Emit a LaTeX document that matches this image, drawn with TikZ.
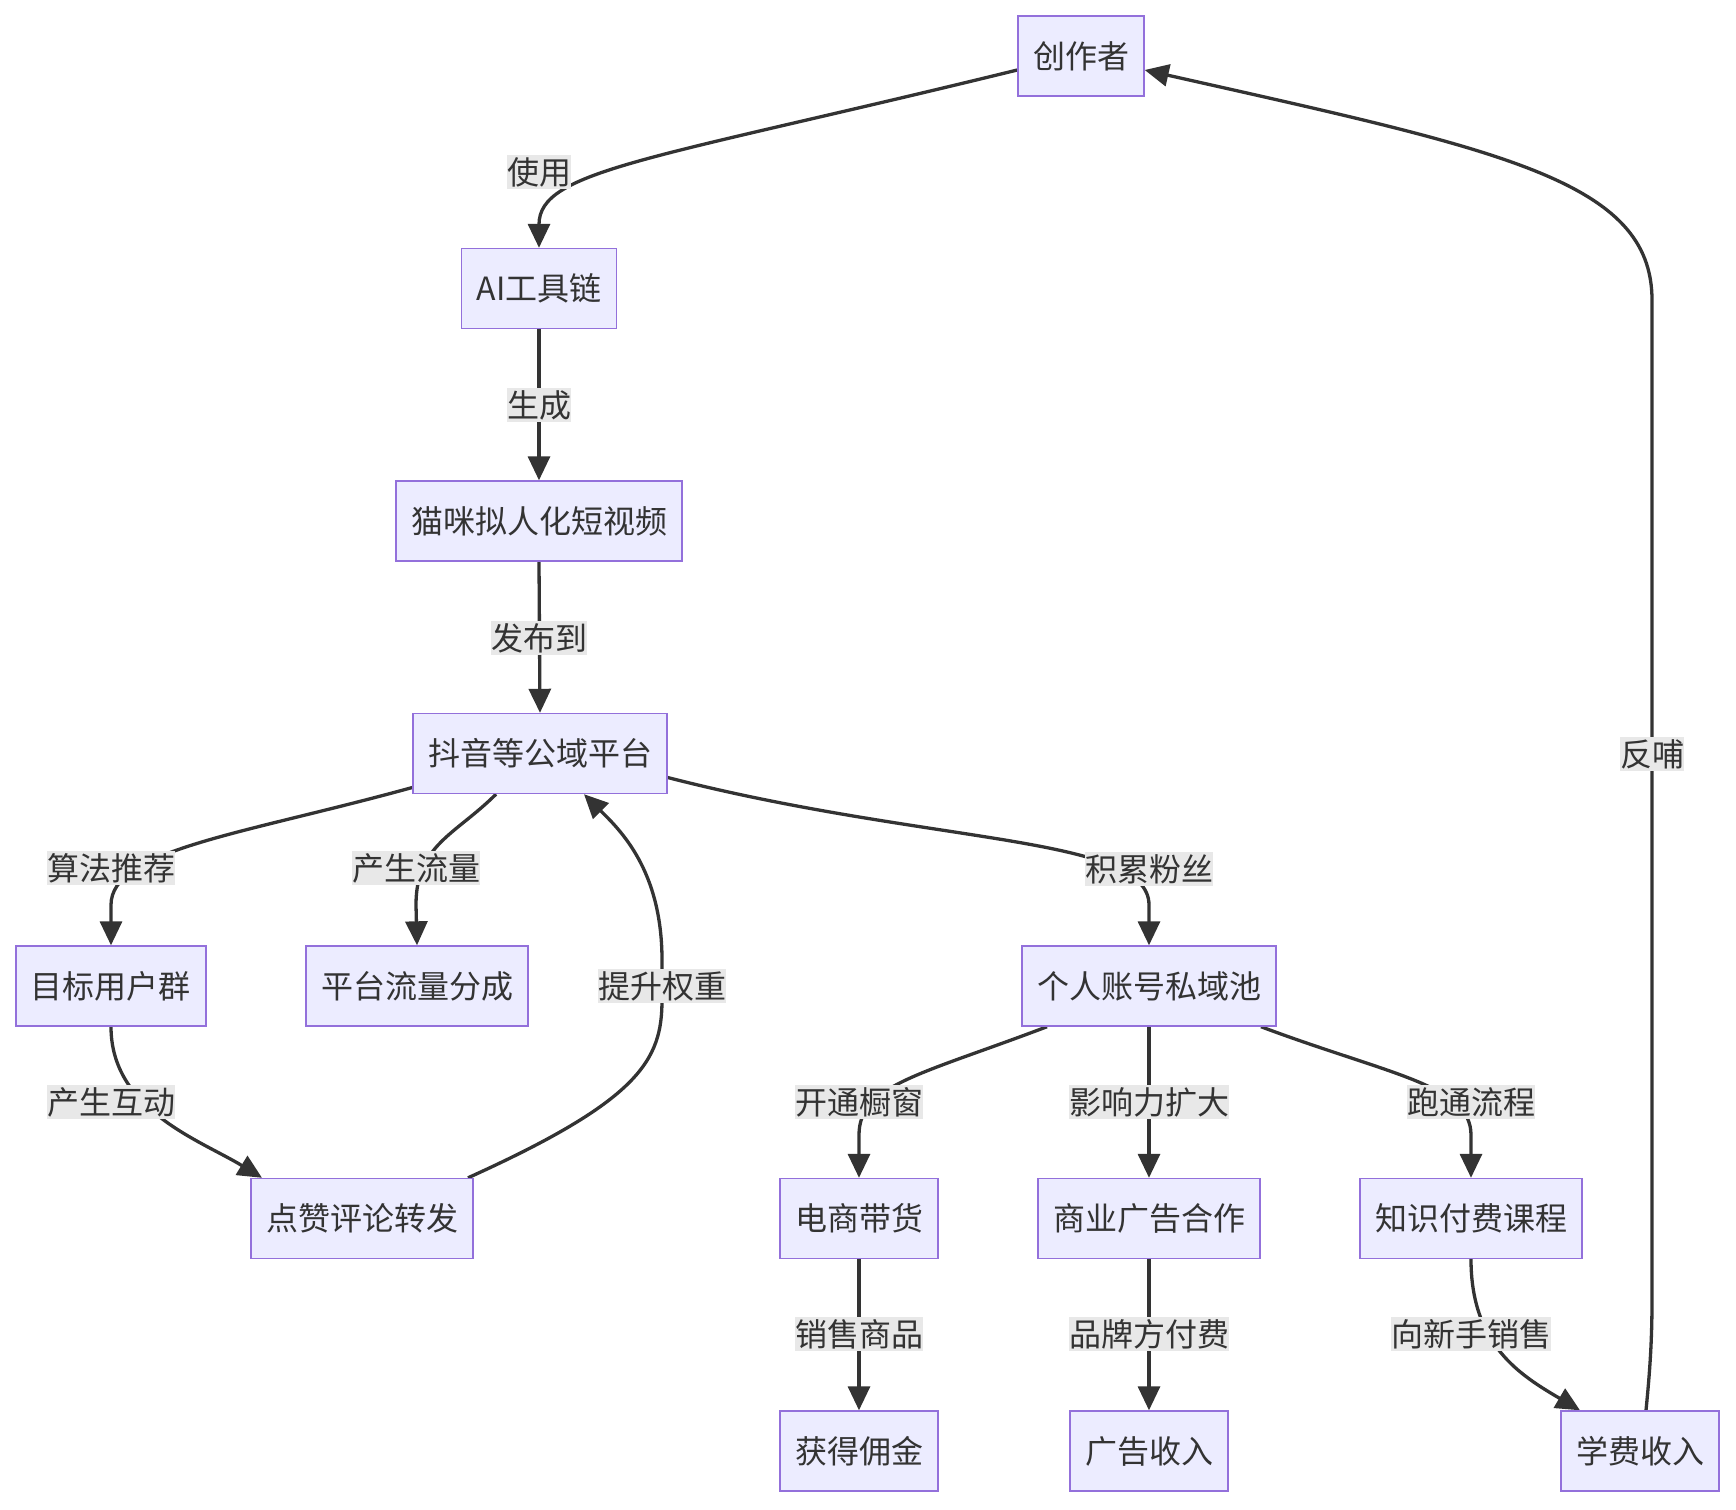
\documentclass[tikz,border=0pt]{standalone}
\usepackage{fontspec}
\setmainfont{Noto Sans CJK SC}
\usetikzlibrary{arrows.meta, backgrounds}
\definecolor{boxfill}{HTML}{ECECFF}
\definecolor{boxline}{HTML}{9370DB}
\definecolor{ink}{HTML}{333333}
\definecolor{lblfill}{HTML}{E8E8E8}

\begin{document}
\begin{tikzpicture}[x=0.5pt, y=-0.5pt,
  box/.style={rectangle, draw=boxline, fill=boxfill, line width=0.7pt,
    minimum height=40pt, inner xsep=7.5pt, inner ysep=0pt, text=ink,
    font=\fontsize{16pt}{19pt}\selectfont},
  lbl/.style={fill=lblfill, inner xsep=0pt, inner ysep=1pt, text=ink,
    font=\fontsize{16pt}{19pt}\selectfont},
  flow/.style={draw=ink, line width=1.65pt, -{Triangle[length=12pt,width=11pt]}}]

\useasboundingbox (0,0) rectangle (1736,1510);

% boxes
\node[box] (ctor) at (1081,56) {创作者};
\node[box] (ai) at (539,288.5) {AI工具链};
\node[box] (cat) at (539,521) {猫咪拟人化短视频};
\node[box] (plat) at (540,753.5) {抖音等公域平台};

\node[box] (tgt) at (111,986) {目标用户群};
\node[box] (share) at (417,986) {平台流量分成};
\node[box] (pool) at (1149,986) {个人账号私域池};

\node[box] (like) at (362,1218.5) {点赞评论转发};
\node[box] (shop) at (859,1218.5) {电商带货};
\node[box] (ad) at (1149,1218.5) {商业广告合作};
\node[box] (course) at (1471,1218.5) {知识付费课程};

\node[box] (comm) at (859,1451) {获得佣金};
\node[box] (adinc) at (1149,1451) {广告收入};
\node[box] (fee) at (1640,1451) {学费收入};

% edge labels
\node[lbl] (l_use) at (539,172) {使用};
\node[lbl] (l_gen) at (539,405) {生成};
\node[lbl] (l_pub) at (539,638) {发布到};
\node[lbl] (l_algo) at (111,868) {算法推荐};
\node[lbl] (l_traffic) at (416,868) {产生流量};
\node[lbl] (l_boost) at (662,986) {提升权重};
\node[lbl] (l_fans) at (1149,869) {积累粉丝};
\node[lbl] (l_act) at (111,1102) {产生互动};
\node[lbl] (l_win) at (859,1102) {开通橱窗};
\node[lbl] (l_infl) at (1149,1102) {影响力扩大};
\node[lbl] (l_run) at (1471,1102) {跑通流程};
\node[lbl] (l_sell) at (859,1334) {销售商品};
\node[lbl] (l_brand) at (1149,1334) {品牌方付费};
\node[lbl] (l_new) at (1471,1334) {向新手销售};
\node[lbl] (l_back) at (1652,754) {反哺};

% connectors
\begin{scope}[on background layer]
\draw[flow] ([yshift=-7pt]ctor.west) .. controls (650,160) and (539,170) .. (ai.north);
\draw[flow] (ai.south) -- (cat.north);
\draw[flow] (cat.south) -- (plat.north);

\draw[flow] ([yshift=-17pt]plat.west) .. controls (240,835) and (111,850) .. (111,905) -- (tgt.north);
\draw[flow] ([xshift=-22pt]plat.south) .. controls (455,835) and (416,845) .. (416,905) -- (share.north);
\draw[flow] ([yshift=-12pt]plat.east) .. controls (930,845) and (1149,835) .. (1149,905) -- (pool.north);

\draw[flow] (tgt.south) .. controls (111,1110) and (200,1140) .. ([xshift=-50pt]like.north);
\draw[flow] ([xshift=53pt]like.north) .. controls (640,1100) and (662,1060) .. (662,1000)
  -- (662,960) .. controls (662,870) and (620,830) .. ([xshift=22pt]plat.south);

\draw[flow] ([xshift=-51pt]pool.south) .. controls (920,1075) and (859,1085) .. (859,1135) -- (shop.north);
\draw[flow] (pool.south) -- (ad.north);
\draw[flow] ([xshift=56pt]pool.south) .. controls (1390,1075) and (1471,1085) .. (1471,1135) -- (course.north);

\draw[flow] (shop.south) -- (comm.north);
\draw[flow] (ad.south) -- (adinc.north);
\draw[flow] (course.south) .. controls (1471,1345) and (1520,1375) .. ([xshift=-30pt]fee.north);

\draw[flow] ([xshift=3pt]fee.north) .. controls (1650,1370) and (1652,1340) .. (1652,1300)
  -- (1652,300) .. controls (1652,180) and (1500,150) .. ([yshift=-7pt]ctor.east);
\end{scope}

\end{tikzpicture}
\end{document}
